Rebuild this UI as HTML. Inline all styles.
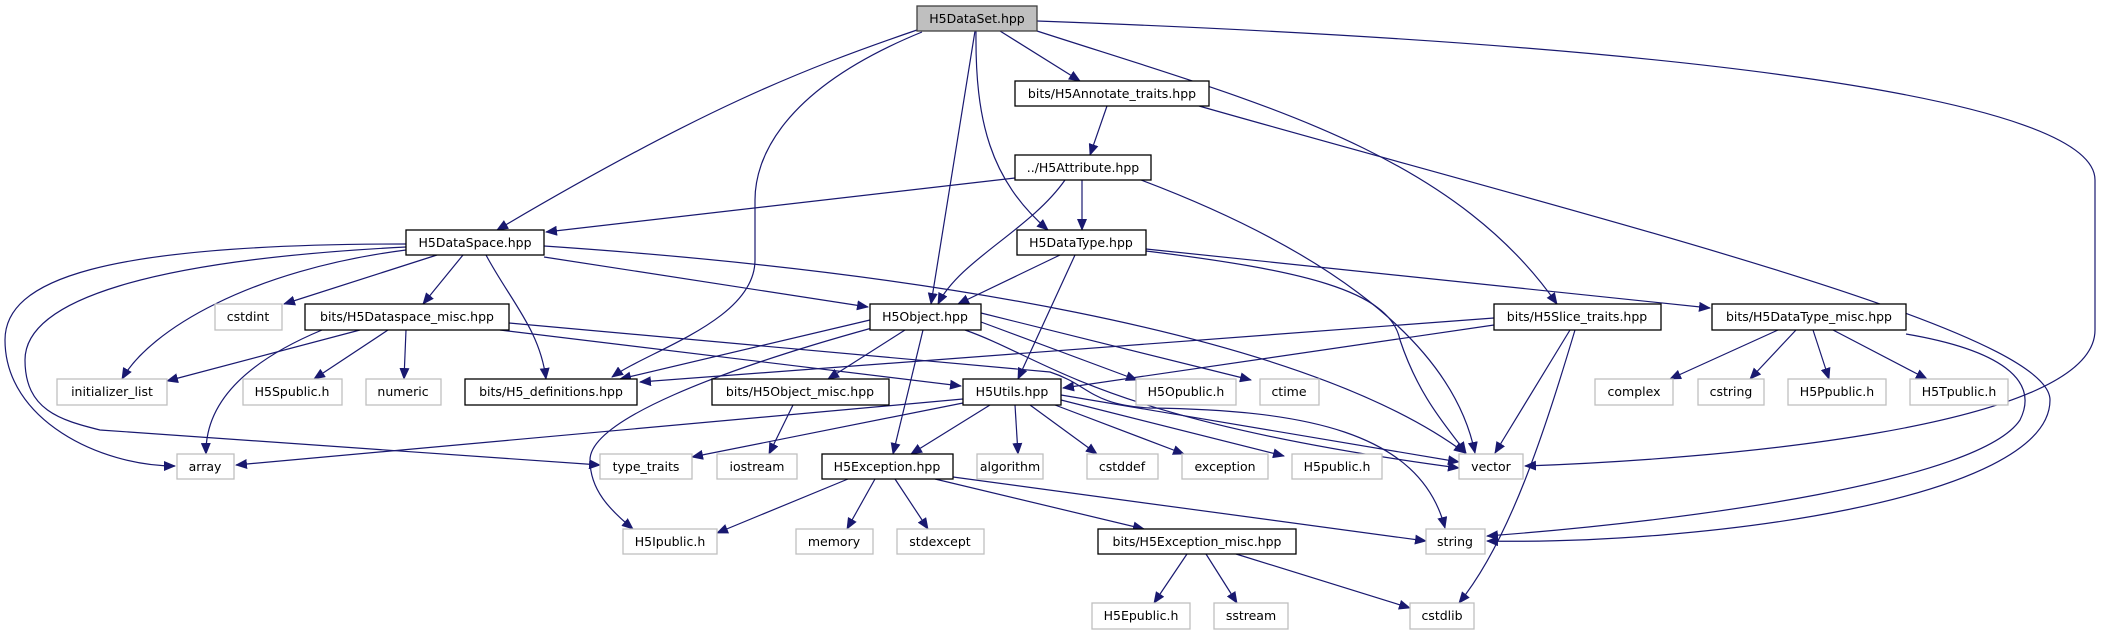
<!DOCTYPE html>
<html><head><meta charset="utf-8"><style>
html,body{margin:0;padding:0;background:#fff;}
svg{display:block;}
text{font-family:"DejaVu Sans","Liberation Sans",sans-serif;font-size:12.5px;fill:#000;text-anchor:middle;}
.b{fill:#fff;stroke:#000;stroke-width:1.3;}
.g{fill:#fff;stroke:#bfbfbf;stroke-width:1.3;}
.r{fill:#bfbfbf;stroke:#404040;stroke-width:1.3;}
path{fill:none;stroke:#191970;stroke-width:1.2;marker-end:url(#a);}
</style></head><body>
<svg width="2107" height="635" viewBox="0 0 2107 635" xmlns="http://www.w3.org/2000/svg">
<defs><marker id="a" markerWidth="12" markerHeight="10" refX="11" refY="5" orient="auto" markerUnits="userSpaceOnUse"><polygon points="0,0 12,5 0,10" fill="#191970"/></marker></defs>
<g>
<path d="M917,30 C800,70 700,110 497,230"/>
<path d="M922,32 C780,90 755,160 755,200 L755,260 C755,320 650,350 612,377"/>
<path d="M975,31 L931,304"/>
<path d="M976,31 C975,120 990,180 1048,230"/>
<path d="M1000,31 L1080,81"/>
<path d="M1037,31 C1250,100 1450,150 1557,304"/>
<path d="M1037,21 C1700,45 2095,100 2095,180 L2095,330 C2095,430 1700,460 1525,466"/>
<path d="M1107,106 L1090,155"/>
<path d="M1199,106 C1600,220 2050,330 2050,400 C2050,500 1700,545 1487,541"/>
<path d="M1015,178 L546,232"/>
<path d="M1082,180 L1082,230"/>
<path d="M1065,180 C1030,230 960,260 938,304"/>
<path d="M1141,180 C1300,240 1450,330 1475,453"/>
<path d="M406,244 C100,244 5,280 5,340 C5,420 100,466 175,466"/>
<path d="M406,247 C150,260 25,300 25,360 C25,410 60,420 100,430 L600,465"/>
<path d="M406,250 C250,270 150,330 122,379"/>
<path d="M437,255 L284,304"/>
<path d="M463,255 L423,304"/>
<path d="M486,255 C510,300 540,330 546,379"/>
<path d="M544,257 L868,307"/>
<path d="M544,246 C900,270 1300,330 1465,453"/>
<path d="M360,330 L167,381"/>
<path d="M388,330 L314,379"/>
<path d="M406,330 L404,379"/>
<path d="M322,330 C250,360 205,400 206,454"/>
<path d="M500,330 L961,386"/>
<path d="M509,323 L1050,372 C1090,385 1090,405 1150,408 C1300,410 1420,430 1445,528"/>
<path d="M1060,255 L958,304"/>
<path d="M1075,255 L1018,379"/>
<path d="M1146,251 C1300,270 1390,290 1400,340 C1420,400 1450,430 1466,453"/>
<path d="M1146,249 L1710,308"/>
<path d="M870,320 L620,379"/>
<path d="M905,330 L828,379"/>
<path d="M923,330 L893,454"/>
<path d="M872,328 C720,370 590,420 590,460 C590,490 610,510 633,529"/>
<path d="M981,322 L1137,380"/>
<path d="M981,313 L1251,380"/>
<path d="M965,330 C1050,360 1100,420 1459,468"/>
<path d="M793,405 L769,454"/>
<path d="M1494,318 L640,382"/>
<path d="M1494,325 L1063,388"/>
<path d="M1570,330 L1495,453"/>
<path d="M1575,330 C1545,430 1510,540 1459,603"/>
<path d="M1778,330 L1670,379"/>
<path d="M1796,330 L1750,379"/>
<path d="M1813,330 L1829,379"/>
<path d="M1833,330 L1927,379"/>
<path d="M1906,334 C2000,350 2040,380 2020,420 C1980,480 1700,520 1487,536"/>
<path d="M963,399 L236,465"/>
<path d="M963,403 L692,457"/>
<path d="M990,405 L911,454"/>
<path d="M1015,405 L1018,454"/>
<path d="M1030,405 L1097,454"/>
<path d="M1055,405 L1184,454"/>
<path d="M1061,400 L1284,456"/>
<path d="M1061,395 L1459,462"/>
<path d="M848,479 L717,533"/>
<path d="M875,479 L847,529"/>
<path d="M895,479 L928,529"/>
<path d="M935,479 L1144,529"/>
<path d="M953,477 L1426,541"/>
<path d="M1187,554 L1154,603"/>
<path d="M1206,554 L1237,603"/>
<path d="M1236,554 L1410,608"/>
</g>
<g>
<rect class="r" x="917" y="6" width="120" height="25"/><text x="977" y="23">H5DataSet.hpp</text>
<rect class="b" x="1015" y="81" width="194" height="25"/><text x="1112" y="98">bits/H5Annotate_traits.hpp</text>
<rect class="b" x="1015" y="155" width="136" height="25"/><text x="1083" y="172">../H5Attribute.hpp</text>
<rect class="b" x="406" y="230" width="138" height="25"/><text x="475" y="247">H5DataSpace.hpp</text>
<rect class="b" x="1017" y="230" width="129" height="25"/><text x="1081" y="247">H5DataType.hpp</text>
<rect class="g" x="215" y="304" width="67" height="26"/><text x="248" y="321">cstdint</text>
<rect class="b" x="305" y="304" width="204" height="26"/><text x="407" y="321">bits/H5Dataspace_misc.hpp</text>
<rect class="b" x="870" y="304" width="111" height="26"/><text x="925" y="321">H5Object.hpp</text>
<rect class="b" x="1494" y="304" width="167" height="26"/><text x="1577" y="321">bits/H5Slice_traits.hpp</text>
<rect class="b" x="1712" y="304" width="194" height="26"/><text x="1809" y="321">bits/H5DataType_misc.hpp</text>
<rect class="g" x="57" y="379" width="110" height="26"/><text x="112" y="396">initializer_list</text>
<rect class="g" x="243" y="379" width="99" height="26"/><text x="292" y="396">H5Spublic.h</text>
<rect class="g" x="366" y="379" width="75" height="26"/><text x="403" y="396">numeric</text>
<rect class="b" x="465" y="379" width="172" height="26"/><text x="551" y="396">bits/H5_definitions.hpp</text>
<rect class="b" x="712" y="379" width="177" height="26"/><text x="800" y="396">bits/H5Object_misc.hpp</text>
<rect class="b" x="963" y="379" width="98" height="26"/><text x="1012" y="396">H5Utils.hpp</text>
<rect class="g" x="1136" y="379" width="100" height="26"/><text x="1186" y="396">H5Opublic.h</text>
<rect class="g" x="1260" y="379" width="59" height="26"/><text x="1289" y="396">ctime</text>
<rect class="g" x="1595" y="379" width="78" height="26"/><text x="1634" y="396">complex</text>
<rect class="g" x="1698" y="379" width="66" height="26"/><text x="1731" y="396">cstring</text>
<rect class="g" x="1788" y="379" width="98" height="26"/><text x="1837" y="396">H5Ppublic.h</text>
<rect class="g" x="1910" y="379" width="98" height="26"/><text x="1959" y="396">H5Tpublic.h</text>
<rect class="g" x="177" y="454" width="57" height="25"/><text x="205" y="471">array</text>
<rect class="g" x="600" y="454" width="92" height="25"/><text x="646" y="471">type_traits</text>
<rect class="g" x="717" y="454" width="80" height="25"/><text x="757" y="471">iostream</text>
<rect class="b" x="822" y="454" width="131" height="25"/><text x="887" y="471">H5Exception.hpp</text>
<rect class="g" x="977" y="454" width="66" height="25"/><text x="1010" y="471">algorithm</text>
<rect class="g" x="1087" y="454" width="71" height="25"/><text x="1122" y="471">cstddef</text>
<rect class="g" x="1182" y="454" width="86" height="25"/><text x="1225" y="471">exception</text>
<rect class="g" x="1292" y="454" width="90" height="25"/><text x="1337" y="471">H5public.h</text>
<rect class="g" x="1459" y="454" width="64" height="25"/><text x="1491" y="471">vector</text>
<rect class="g" x="623" y="529" width="94" height="25"/><text x="670" y="546">H5Ipublic.h</text>
<rect class="g" x="796" y="529" width="77" height="25"/><text x="834" y="546">memory</text>
<rect class="g" x="897" y="529" width="87" height="25"/><text x="940" y="546">stdexcept</text>
<rect class="b" x="1098" y="529" width="198" height="25"/><text x="1197" y="546">bits/H5Exception_misc.hpp</text>
<rect class="g" x="1426" y="529" width="59" height="25"/><text x="1455" y="546">string</text>
<rect class="g" x="1092" y="603" width="98" height="26"/><text x="1141" y="620">H5Epublic.h</text>
<rect class="g" x="1214" y="603" width="74" height="26"/><text x="1251" y="620">sstream</text>
<rect class="g" x="1410" y="603" width="64" height="26"/><text x="1442" y="620">cstdlib</text>
</g>
</svg>
</body></html>
